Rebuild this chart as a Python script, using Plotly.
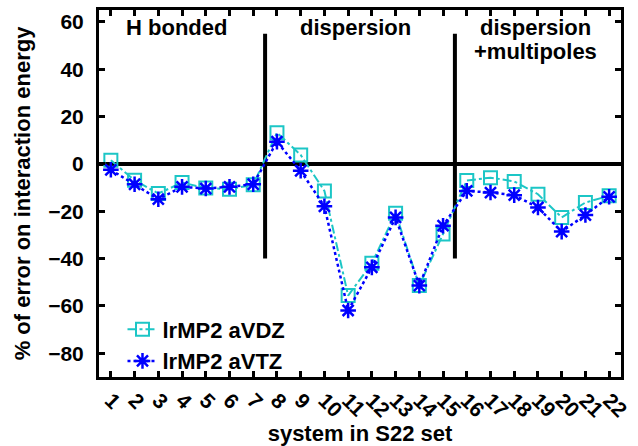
import plotly.graph_objects as go

systems = list(range(1, 23))
tick_labels = [str(i) for i in systems]
avdz = [1.5, -6.9, -12.5, -7.9, -10.2, -10.7, -8.8, 13.2, 3.8, -11.4, -55.6,
        -42.0, -20.8, -51.4, -29.6, -7.0, -5.8, -7.4, -12.8, -22.6, -16.3, -13.5]
avtz = [-2.5, -8.6, -14.9, -9.7, -10.4, -9.7, -8.6, 9.4, -2.9, -17.9, -61.9,
        -43.7, -22.6, -51.4, -26.1, -11.4, -12.1, -13.2, -18.4, -28.6, -21.6, -13.9]
y_ticks = [-80, -60, -40, -20, 0, 20, 40, 60]
y_tick_labels = ["\u221280", "\u221260", "\u221240", "\u221220", "0", "20", "40", "60"]
separators = [7.5, 15.5]
region_labels = ["H bonded", "dispersion", "dispersion", "+multipoles"]
region_x = [3.77, 11.3, 18.9, 18.9]
region_y = [57.5, 57.5, 57.5, 47.5]

FONT = "Liberation Sans, Arial, sans-serif"
CYAN = "#1cc6c6"
BLUE = "#0000ff"

fig = go.Figure()
fig.add_trace(go.Scatter(
    x=systems, y=avdz, mode="lines+markers", name="lrMP2 aVDZ",
    line=dict(color=CYAN, width=2, dash="dashdot"),
    marker=dict(symbol="square-open", size=13, color=CYAN, line=dict(width=2, color=CYAN)),
))
fig.add_trace(go.Scatter(
    x=systems, y=avtz, mode="lines+markers", name="lrMP2 aVTZ",
    line=dict(color=BLUE, width=2.5, dash="dot"),
    marker=dict(symbol="asterisk-open", size=13, color=BLUE, line=dict(width=2.5, color=BLUE)),
))

# zero line
fig.add_shape(type="line", xref="paper", x0=0, x1=1, yref="y", y0=0, y1=0,
              line=dict(color="black", width=4), layer="below")
for sx in separators:
    fig.add_shape(type="line", xref="x", x0=sx, x1=sx, yref="y", y0=-40, y1=55,
                  line=dict(color="black", width=4), layer="below")

for txt, xx, yy in zip(region_labels, region_x, region_y):
    fig.add_annotation(x=xx, y=yy, xref="x", yref="y", text=txt, showarrow=False,
                       yanchor="middle", xanchor="center",
                       font=dict(family=FONT, size=22, color="black", weight="bold"))

axis_common = dict(showline=True, linecolor="black", linewidth=3, mirror="allticks",
                   ticks="inside", ticklen=6, tickwidth=3, tickcolor="black",
                   showgrid=False, zeroline=False,
                   tickfont=dict(family=FONT, size=21, color="black", weight="bold"))

fig.update_xaxes(range=[0.5, 22.5], tickmode="array", tickvals=systems, ticktext=tick_labels,
                 tickangle=45, ticklabeloverflow="allow",
                 title=dict(text="system in S22 set", standoff=2,
                            font=dict(family=FONT, size=22, color="black", weight="bold")),
                 **axis_common)
fig.update_yaxes(range=[-90, 65], tickmode="array", tickvals=y_ticks, ticktext=y_tick_labels,
                 ticklabelstandoff=8,
                 title=dict(text="% of error on interaction energy", standoff=12,
                            font=dict(family=FONT, size=22, color="black", weight="bold")),
                 **axis_common)

fig.update_layout(
    width=638, height=446,
    margin=dict(l=99, r=8, t=7, b=68),
    plot_bgcolor="white", paper_bgcolor="white",
    showlegend=True,
    legend=dict(x=0.045, y=-0.015, xanchor="left", yanchor="bottom",
                bgcolor="rgba(0,0,0,0)", tracegroupgap=0, itemwidth=30,
                font=dict(family=FONT, size=22, color="black", weight="bold")),
)

fig.write_html("out.html", config={"displayModeBar": False},
               post_script="document.body.style.margin='0';")
